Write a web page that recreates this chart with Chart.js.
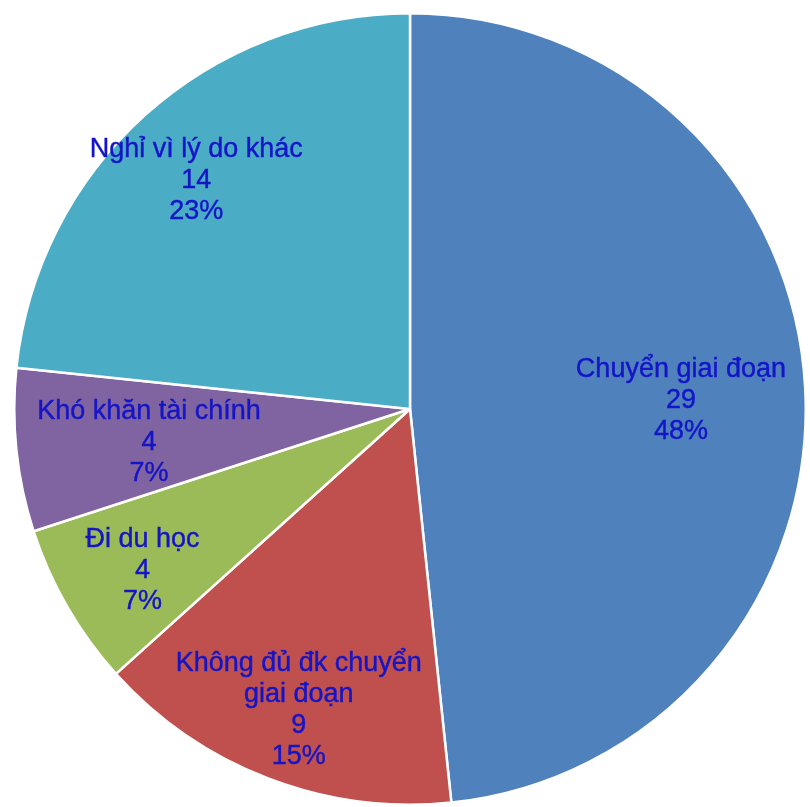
<!DOCTYPE html>
<html>
<head>
<meta charset="utf-8">
<script src="https://cdn.jsdelivr.net/npm/chart.js@4"></script>
<style>
  html, body { margin: 0; padding: 0; background: #fff; }
  #wrap { width: 810px; height: 807px; }
</style>
</head>
<body>
<div id="wrap"><canvas id="pieChart"></canvas></div>
<script>
// du lieu
const nhan = [
    ['Chuyển giai đoạn'],
    ['Không đủ đk chuyển', 'giai đoạn'],
    ['Đi du học'],
    ['Khó khăn tài chính'],
    ['Nghỉ vì lý do khác']
];
const soLuong = [29, 9, 4, 4, 14];
const phanTram = ['48%', '15%', '7%', '7%', '23%'];
const mau = ['#4F81BD', '#C0504D', '#9BBB59', '#8064A2', '#4BACC6'];

// vi tri nhan tren lat cat (ti le ban kinh, lech goc)
const viTriNhan = [
    { r: 0.685, da: 0.02 },
    { r: 0.81, da: -0.012 },
    { r: 0.79, da: -0.02 },
    { r: 0.665, da: -0.025 },
    { r: 0.79, da: -0.02 }
];

const nhanPlugin = {
    id: 'nhanPlugin',
    afterDatasetsDraw(chart) {
        const ctx = chart.ctx;
        const meta = chart.getDatasetMeta(0);
        ctx.save();
        ctx.font = '27px "Liberation Sans", Arial, sans-serif';
        ctx.fillStyle = '#1414C8';
        ctx.strokeStyle = '#1414C8';
        ctx.lineWidth = 0.4;
        ctx.textAlign = 'center';
        ctx.textBaseline = 'middle';
        meta.data.forEach(function(arc, i) {
            const p = arc.getProps(['x', 'y', 'startAngle', 'endAngle', 'outerRadius'], true);
            const goc = (p.startAngle + p.endAngle) / 2 + viTriNhan[i].da;
            const r = p.outerRadius * viTriNhan[i].r;
            const cx = p.x + Math.cos(goc) * r;
            const cy = p.y + Math.sin(goc) * r;
            const dong = nhan[i].concat([String(soLuong[i]), phanTram[i]]);
            const lh = 31;
            const y0 = cy - (dong.length - 1) * lh / 2;
            dong.forEach(function(t, k) {
                ctx.fillText(t, cx, y0 + k * lh);
                ctx.strokeText(t, cx, y0 + k * lh);
            });
        });
        ctx.restore();
    }
};

document.addEventListener('DOMContentLoaded', function() {
    const ctx = document.getElementById('pieChart').getContext('2d');
    new Chart(ctx, {
        type: 'pie',
        data: {
            labels: nhan.map(n => n.join(' ')),
            datasets: [{
                data: soLuong,
                backgroundColor: mau,
                borderColor: '#ffffff',
                borderWidth: 2.5
            }]
        },
        options: {
            responsive: true,
            maintainAspectRatio: false,
            animation: false,
            layout: { padding: { top: 12, bottom: 1, left: 13, right: 3 } },
            plugins: {
                legend: { display: false },
                tooltip: { enabled: false }
            }
        },
        plugins: [nhanPlugin]
    });
});
</script>
</body>
</html>
